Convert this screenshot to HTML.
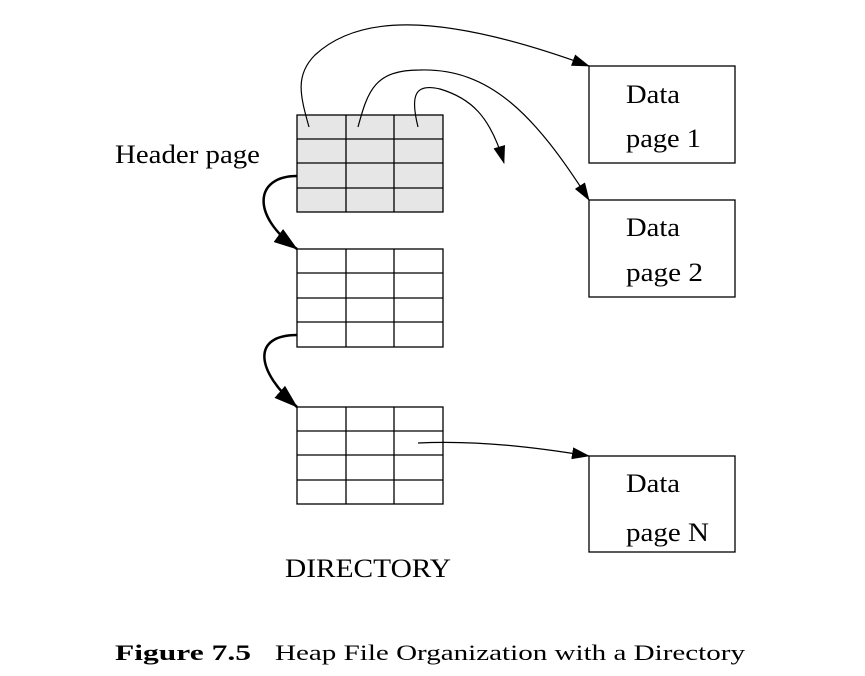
<!DOCTYPE html>
<html><head><meta charset="utf-8"><style>
html,body{margin:0;padding:0;background:#fff;width:865px;height:676px;overflow:hidden}
svg{display:block}
text{font-family:"Liberation Serif",serif;fill:#000}
</style></head><body>
<svg width="865" height="676" viewBox="0 0 865 676">
<defs>
<marker id="ab" markerWidth="24" markerHeight="16" refX="23" refY="8" orient="auto" markerUnits="userSpaceOnUse"><path d="M0,0 L24,8 L0,16 z" fill="#000"/></marker>
<marker id="am" markerWidth="18" markerHeight="12" refX="17" refY="6" orient="auto" markerUnits="userSpaceOnUse"><path d="M0,0 L18,6 L0,12 z" fill="#000"/></marker>
</defs>
<g stroke="#000" stroke-width="1.3">
<rect x="297" y="115" width="146" height="97" fill="#e6e6e6"/>
<path d="M346,115V212M394,115V212M297,139H443M297,163H443M297,188H443" fill="none"/>
</g>
<g stroke="#000" stroke-width="1.3" fill="#fff">
<rect x="297" y="249" width="146" height="98"/>
<path d="M346,249V347M394,249V347M297,273H443M297,298H443M297,322H443" fill="none"/>
</g>
<g stroke="#000" stroke-width="1.3" fill="#fff">
<rect x="297" y="407" width="146" height="97"/>
<path d="M346,407V504M394,407V504M297,431H443M297,455H443M297,480H443" fill="none"/>
</g>
<g stroke="#000" stroke-width="1.3" fill="#fff">
<rect x="589" y="66" width="146" height="97"/>
<rect x="589" y="200" width="146" height="97"/>
<rect x="589" y="456" width="146" height="96"/>
</g>
<g fill="none" stroke="#000" stroke-width="1.2">
<path d="M309,127 C300,95 295,75 315,55 C355,18 430,8 589,66" marker-end="url(#am)"/>
<path d="M358,127 C368,90 375,70 420,70 C490,68 535,115 589,200" marker-end="url(#am)"/>
<path d="M418,127 C410,95 415,83 440,89 C470,98 490,115 504,163" marker-end="url(#am)"/>
<path d="M418,443 C480,440 540,448 589,456" marker-end="url(#am)"/>
<path stroke-width="2.5" d="M297,176 C255,176 250,215 297,249" marker-end="url(#ab)"/>
<path stroke-width="2.5" d="M297,335 C252,335 255,370 297,407" marker-end="url(#ab)"/>
</g>
<g font-size="26" lengthAdjust="spacingAndGlyphs">
<text x="115" y="163" textLength="145" lengthAdjust="spacingAndGlyphs">Header page</text>
<text x="626" y="103" textLength="54" lengthAdjust="spacingAndGlyphs">Data</text>
<text x="626" y="147" textLength="75" lengthAdjust="spacingAndGlyphs">page 1</text>
<text x="626" y="236" textLength="54" lengthAdjust="spacingAndGlyphs">Data</text>
<text x="626" y="281" textLength="77" lengthAdjust="spacingAndGlyphs">page 2</text>
<text x="626" y="492" textLength="54" lengthAdjust="spacingAndGlyphs">Data</text>
<text x="626" y="541" textLength="83" lengthAdjust="spacingAndGlyphs">page N</text>
<text x="285" y="577" textLength="166" lengthAdjust="spacingAndGlyphs">DIRECTORY</text>
</g>
<text x="115" y="660" font-size="22" font-weight="bold" textLength="136" lengthAdjust="spacingAndGlyphs">Figure 7.5</text>
<text x="275" y="660" font-size="22" textLength="470" lengthAdjust="spacingAndGlyphs">Heap File Organization with a Directory</text>
</svg>
</body></html>
